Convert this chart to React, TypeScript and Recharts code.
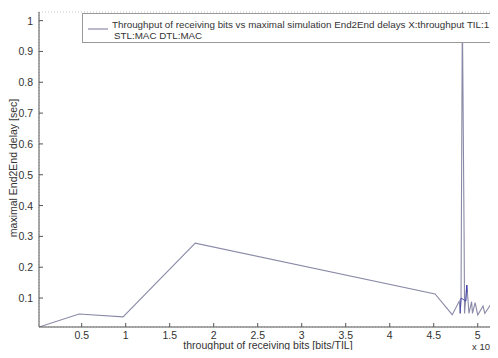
import React from 'react';
import { LineChart, Line, XAxis, YAxis, CartesianGrid } from 'recharts';

// throughput [x 10^5 bits/TIL] vs maximal End2End delay [sec]
const throughput = [0.015, 0.47, 0.97, 1.79, 4.515, 4.71, 4.79, 4.8, 4.81, 4.825, 4.845, 4.85, 4.875, 4.885, 4.9, 4.93, 4.94, 4.97, 5.0, 5.06, 5.08, 5.24];
const maxDelay = [0.006, 0.048, 0.039, 0.278, 0.113, 0.046, 0.09, 0.05, 0.1, 1.03, 0.3, 0.05, 0.142, 0.11, 0.05, 0.088, 0.05, 0.085, 0.045, 0.074, 0.05, 0.12];

// darker blue fragments around the spike
const blueX = [4.8, 4.81, 4.865, 4.875, 4.88];
const blueY = [0.05, 0.1, 0.09, 0.142, 0.12];

const xTicks = [0.5, 1, 1.5, 2, 2.5, 3, 3.5, 4, 4.5, 5];
const yTicks = [0.1, 0.2, 0.3, 0.4, 0.5, 0.6, 0.7, 0.8, 0.9, 1];

const legendText = 'Throughput of receiving bits vs maximal simulation End2End delays X:throughput TIL:1';
const legendText2 = 'STL:MAC DTL:MAC';
const xLabel = 'throughput of receiving bits [bits/TIL]';
const yLabel = 'maximal End2End delay [sec]';

const mainData = throughput.map((x, i) => ({ x, y: maxDelay[i] }));
const blueData = blueX.map((x, i) => ({ x, y: blueY[i] }));

const FONT = 'Arial, "Liberation Sans", sans-serif';
const AXIS = '#555';
const fmt = (v: number) => String(+v.toFixed(1));

const BottomTick = (props: any) => {
  const { x, y, payload } = props;
  return (
    <g>
      <line x1={x} x2={x} y1={y} y2={y - 4} stroke={AXIS} />
      <text x={x} y={y + 11.5} textAnchor="middle" fontSize={10.5} fill="#333" fontFamily={FONT}>
        {fmt(payload.value)}
      </text>
    </g>
  );
};

const TopTick = (props: any) => {
  const { x, y } = props;
  return <line x1={x} x2={x} y1={y} y2={y + 4} stroke={AXIS} />;
};

const LeftTick = (props: any) => {
  const { x, y, payload } = props;
  return (
    <g>
      <line x1={x} x2={x + 4} y1={y} y2={y} stroke={AXIS} />
      <text x={x - 6} y={y + 4} textAnchor="end" fontSize={10.5} fill="#333" fontFamily={FONT}>
        {fmt(payload.value)}
      </text>
    </g>
  );
};

const RightTick = (props: any) => {
  const { x, y } = props;
  return <line x1={x - 3} x2={x} y1={y} y2={y} stroke={AXIS} />;
};

export default function App() {
  return (
    <div style={{ margin: -8, width: 498, height: 358, position: 'relative', background: '#fff', overflow: 'hidden' }}>
      <LineChart width={498} height={358} margin={{ top: 12, right: 0, bottom: 0, left: 0 }}>
        <CartesianGrid stroke="#c8c8c8" strokeDasharray="1 2" />
        <XAxis
          xAxisId="b"
          dataKey="x"
          type="number"
          domain={[0.015, 5.23]}
          allowDataOverflow
          ticks={xTicks}
          height={31}
          tickSize={0}
          tickMargin={0}
          tick={<BottomTick />}
          axisLine={{ stroke: AXIS }}
          tickLine={false}
        />
        <XAxis
          xAxisId="t"
          orientation="top"
          dataKey="x"
          type="number"
          domain={[0.015, 5.23]}
          allowDataOverflow
          ticks={xTicks}
          height={0}
          tickSize={0}
          tickMargin={0}
          tick={<TopTick />}
          axisLine={{ stroke: AXIS }}
          tickLine={false}
        />
        <YAxis
          yAxisId="l"
          type="number"
          domain={[0.006, 1.028]}
          allowDataOverflow
          ticks={yTicks}
          width={39}
          tickSize={0}
          tickMargin={0}
          tick={<LeftTick />}
          axisLine={{ stroke: AXIS }}
          tickLine={false}
        />
        <YAxis
          yAxisId="r"
          orientation="right"
          type="number"
          domain={[0.006, 1.028]}
          allowDataOverflow
          ticks={yTicks}
          width={0}
          tickSize={0}
          tickMargin={0}
          tick={<RightTick />}
          axisLine={false}
          tickLine={false}
        />
        <Line
          xAxisId="b"
          yAxisId="l"
          data={mainData}
          dataKey="y"
          type="linear"
          stroke="#8a8aa8"
          strokeWidth={1.1}
          dot={false}
          isAnimationActive={false}
        />
        <Line
          xAxisId="b"
          yAxisId="l"
          data={blueData}
          dataKey="y"
          type="linear"
          stroke="#4040b0"
          strokeWidth={0.9}
          dot={false}
          isAnimationActive={false}
        />
      </LineChart>
      <div
        style={{
          position: 'absolute',
          left: 268,
          top: 340,
          transform: 'translateX(-50%)',
          fontFamily: FONT,
          fontSize: 10.5,
          lineHeight: '11px',
          color: '#333',
          whiteSpace: 'nowrap',
        }}
      >
        {xLabel}
      </div>
      <div
        style={{
          position: 'absolute',
          left: 13,
          top: 168,
          transform: 'translate(-50%, -50%) rotate(-90deg)',
          fontFamily: FONT,
          fontSize: 10.5,
          lineHeight: '11px',
          color: '#333',
          whiteSpace: 'nowrap',
        }}
      >
        {yLabel}
      </div>
      <div
        style={{
          position: 'absolute',
          left: 82,
          top: 13,
          width: 415,
          height: 30,
          boxSizing: 'border-box',
          border: '1px solid #999',
          background: '#fff',
          fontFamily: FONT,
          fontSize: 9.8,
          color: '#333',
          lineHeight: '11px',
        }}
      >
        <svg width={22} height={10} style={{ position: 'absolute', left: 4, top: 10 }}>
          <line x1={1} x2={21} y1={5} y2={5} stroke="#8a8aa8" strokeWidth={1.2} />
        </svg>
        <div style={{ position: 'absolute', left: 29, top: 5, whiteSpace: 'nowrap' }}>{legendText}</div>
        <div style={{ position: 'absolute', left: 31, top: 16, whiteSpace: 'nowrap' }}>{legendText2}</div>
      </div>
      <div style={{ position: 'absolute', left: 472, top: 341, height: 12, fontFamily: FONT, fontSize: 9.5, lineHeight: '11px', color: '#333', whiteSpace: 'nowrap' }}>
        x 10
        <span style={{ position: 'absolute', left: 21, top: -4, fontSize: 6.5, lineHeight: '7px' }}>5</span>
      </div>
    </div>
  );
}
